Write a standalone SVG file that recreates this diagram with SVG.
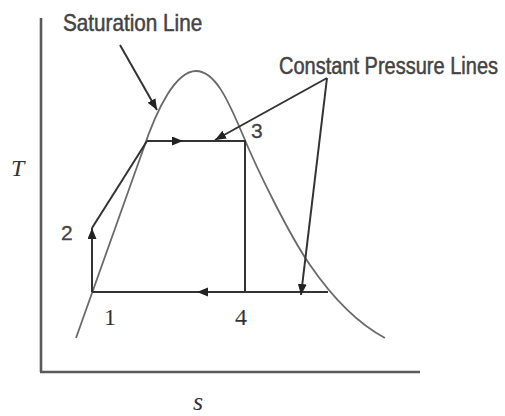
<svg xmlns="http://www.w3.org/2000/svg" width="505" height="416" viewBox="0 0 505 416">
<style>
  .axis{stroke:#5a5a5a;stroke-width:2.6;fill:none}
  .dome{stroke:#6a6a6a;stroke-width:1.8;fill:none}
  .cyc{stroke:#333;stroke-width:2;fill:none}
  .lead{stroke:#333;stroke-width:2;fill:none}
  .lbl{font-family:"Liberation Sans",Arial,sans-serif;font-size:23px;fill:#444;stroke:#444;stroke-width:0.5}
  .num{font-family:"Liberation Sans",Arial,sans-serif;font-size:21px;fill:#444;stroke:#444;stroke-width:0.3}
  .snum{font-family:"Liberation Serif","Times New Roman",serif;font-size:24px;fill:#333}
  .var{font-family:"Liberation Serif","Times New Roman",serif;font-style:italic;fill:#333}
</style>
<defs>
  <marker id="arr" markerUnits="userSpaceOnUse" markerWidth="12" markerHeight="10" refX="11" refY="4.5" orient="auto">
    <path d="M0,0 L11,4.5 L0,9 z" fill="#222"/>
  </marker>
</defs>
<rect width="505" height="416" fill="#fff"/>
<g id="axes">
  <line class="axis" x1="41" y1="18" x2="41" y2="372"/>
  <line class="axis" x1="40" y1="372" x2="420" y2="372"/>
  <text class="var" x="11" y="176" font-size="24">T</text>
  <text class="var" x="193" y="410" font-size="26">s</text>
</g>
<g id="saturation-dome">
  <path class="dome" d="M76,338 L143,150 C157,108 176,71 196,71 C215,71 228,100 242,133 C258,172 290,236 310,265 C330,294 355,322 385,338"/>
</g>
<g id="connectors">
  <line class="cyc" x1="92" y1="292" x2="92" y2="228" marker-end="url(#arr)"/>
  <line class="cyc" x1="92" y1="228" x2="147" y2="141"/>
  <line class="cyc" x1="147" y1="141" x2="183" y2="141" marker-end="url(#arr)"/>
  <line class="cyc" x1="183" y1="141" x2="246" y2="141"/>
  <line class="cyc" x1="245" y1="140" x2="245" y2="292"/>
  <line class="cyc" x1="328" y1="292" x2="245" y2="292"/>
  <line class="cyc" x1="245" y1="292" x2="197" y2="292" marker-end="url(#arr)"/>
  <line class="cyc" x1="197" y1="292" x2="92" y2="292"/>
  <line class="lead" x1="120" y1="45" x2="157" y2="110" marker-end="url(#arr)"/>
  <line class="lead" x1="327" y1="78" x2="215" y2="140" marker-end="url(#arr)"/>
  <line class="lead" x1="327" y1="78" x2="301" y2="295" marker-end="url(#arr)"/>
</g>
<g id="label-saturation">
  <text class="lbl" transform="translate(63,31) scale(0.9,1)">Saturation Line</text>
</g>
<g id="label-constant-pressure">
  <text class="lbl" transform="translate(279,74) scale(0.87,1)">Constant Pressure Lines</text>
</g>
<g id="state-1"><text class="snum" x="104" y="325">1</text></g>
<g id="state-2"><text class="num" x="61" y="240">2</text></g>
<g id="state-3"><text class="num" x="251" y="138">3</text></g>
<g id="state-4"><text class="snum" x="235" y="325">4</text></g>
</svg>
